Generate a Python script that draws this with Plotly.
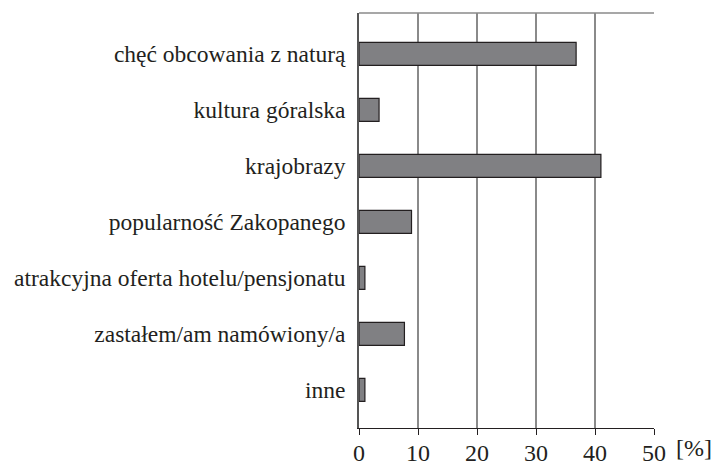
import plotly.graph_objects as go

categories = [
    "chęć obcowania z naturą",
    "kultura góralska",
    "krajobrazy",
    "popularność Zakopanego",
    "atrakcyjna oferta hotelu/pensjonatu",
    "zastałem/am namówiony/a",
    "inne",
]
values = [36.8, 3.4, 41.0, 8.9, 1.0, 7.7, 1.0]
x_ticks = [0, 10, 20, 30, 40, 50]

FONT = "Liberation Serif, serif"
TXT = "#231f20"

fig = go.Figure(
    go.Bar(
        y=categories,
        x=values,
        orientation="h",
        width=0.41,
        marker=dict(color="#808083", line=dict(color="#231f20", width=1.2)),
        hoverinfo="x+y",
    )
)

fig.update_layout(
    width=715,
    height=471,
    margin=dict(l=359, r=61, t=13, b=43, autoexpand=False),
    plot_bgcolor="white",
    paper_bgcolor="white",
    showlegend=False,
    font=dict(family=FONT, color=TXT),
)

fig.update_xaxes(
    range=[0, 50],
    tickvals=x_ticks,
    ticktext=[str(v) for v in x_ticks],
    showgrid=True,
    gridcolor="#8a8a8a",
    gridwidth=1.5,
    zeroline=False,
    showline=True,
    linecolor="#231f20",
    linewidth=1.3,
    ticks="outside",
    ticklen=6,
    tickwidth=1.3,
    tickcolor="#231f20",
    ticklabelstandoff=-3,
    tickfont=dict(family=FONT, size=24, color=TXT),
    fixedrange=True,
)

fig.update_yaxes(
    categoryorder="array",
    categoryarray=categories,
    range=[6.68, -0.73],
    showgrid=False,
    zeroline=False,
    showline=True,
    linecolor="#555555",
    linewidth=1.5,
    ticks="",
    ticklabelstandoff=7,
    tickfont=dict(family=FONT, size=23.5, color=TXT),
    fixedrange=True,
)

# top border of the plot frame
fig.add_shape(
    type="line", xref="paper", yref="paper", x0=0, x1=1, y0=1, y1=1,
    line=dict(color="#8a8a8a", width=1.5),
)

fig.add_annotation(
    text="[%]", xref="x", yref="paper", x=50, y=0,
    xanchor="left", yanchor="top", xshift=20, yshift=-5,
    showarrow=False, font=dict(family=FONT, size=24, color=TXT),
)

fig.write_html(
    "out.html",
    config={"displayModeBar": False},
    post_script="document.body.style.margin='0';document.body.style.overflow='hidden';",
)
